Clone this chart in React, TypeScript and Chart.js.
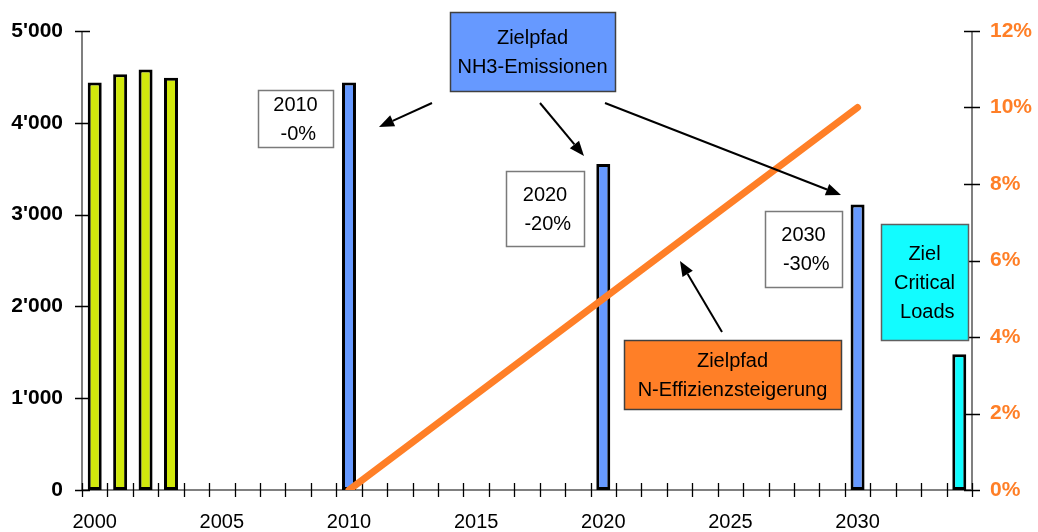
import React, { useEffect, useRef } from 'react';
import { Chart, registerables } from 'chart.js';

Chart.register(...registerables);

// ---- Data ----
const years: string[] = [
  '2000', '2001', '2002', '2003', '2004', '2005', '2006', '2007', '2008', '2009',
  '2010', '2011', '2012', '2013', '2014', '2015', '2016', '2017', '2018', '2019',
  '2020', '2021', '2022', '2023', '2024', '2025', '2026', '2027', '2028', '2029',
  '2030', '2031', '2032', '2033', '2034',
];
const historicYears = ['2000', '2001', '2002', '2003'];
const historicValues = [4440, 4530, 4580, 4490];
const targetYears = ['2010', '2020', '2030'];
const targetValues = [4440, 3550, 3110];
const criticalYears = ['2034'];
const criticalValues = [1480];
const efficiencyYears = ['2010', '2030'];
const efficiencyValues = [0, 10];
const leftTicks = [0, 1000, 2000, 3000, 4000, 5000];
const rightTicks = [0, 2, 4, 6, 8, 10, 12];

// ---- Styles ----
const FONT = "Arial, 'Liberation Sans', sans-serif";
const ORANGE = '#FF7F27';
const YELLOW = '#D1E80C';
const BLUE = '#6699FF';
const CYAN = '#12FCFF';

type Box = { x: number; y: number; w: number; h: number; fill: string; border: string; lines: string[] };
const boxes: Box[] = [
  { x: 258, y: 90, w: 75, h: 57, fill: '#FFFFFF', border: '#7a7a7a', lines: ['2010', ' -0%'] },
  { x: 450, y: 12, w: 165, h: 79, fill: BLUE, border: '#404040', lines: ['Zielpfad', 'NH3-Emissionen'] },
  { x: 506, y: 171, w: 78, h: 75, fill: '#FFFFFF', border: '#7a7a7a', lines: ['2020', ' -20%'] },
  { x: 765, y: 211, w: 77, h: 76, fill: '#FFFFFF', border: '#7a7a7a', lines: ['2030', ' -30%'] },
  { x: 881, y: 224, w: 87, h: 116, fill: CYAN, border: '#606060', lines: ['Ziel', 'Critical', ' Loads'] },
  { x: 624, y: 340, w: 217, h: 69, fill: ORANGE, border: '#404040', lines: ['Zielpfad', 'N-Effizienzsteigerung'] },
];
const arrows: number[][] = [
  [432, 103, 379, 127],
  [540, 103, 584, 156],
  [605, 103, 841, 195],
  [722, 332, 680, 261],
];

const fmtThousands = (v: number) =>
  v === 0 ? '0' : `${Math.floor(v / 1000)}'${String(v % 1000).padStart(3, '0')}`;

const axesPlugin = {
  id: 'customAxes',
  beforeDatasetsDraw(chart: any) {
    const { ctx, chartArea: a, scales } = chart;
    ctx.save();
    ctx.lineCap = 'butt';
    ctx.strokeStyle = '#555555';
    ctx.lineWidth = 1.5;
    ctx.beginPath();
    ctx.moveTo(a.left, a.top);
    ctx.lineTo(a.left, a.bottom);
    ctx.stroke();
    ctx.strokeStyle = '#808080';
    ctx.lineWidth = 2;
    ctx.beginPath();
    ctx.moveTo(a.right, a.top);
    ctx.lineTo(a.right, a.bottom);
    ctx.moveTo(a.left, a.bottom);
    ctx.lineTo(a.right, a.bottom);
    ctx.stroke();
    ctx.strokeStyle = '#000000';
    ctx.lineWidth = 1.3;
    ctx.beginPath();
    leftTicks.forEach((v) => {
      const y = Math.round(scales.y.getPixelForValue(v)) + 0.5;
      ctx.moveTo(a.left - 7, y);
      ctx.lineTo(a.left + 8, y);
    });
    rightTicks.forEach((v) => {
      const y = Math.round(scales.y1.getPixelForValue(v)) + 0.5;
      ctx.moveTo(a.right - 8, y);
      ctx.lineTo(a.right + 8, y);
    });
    const n = years.length;
    for (let i = 0; i <= n; i++) {
      const x = Math.round(a.left + (i * a.width) / n) + 0.5;
      ctx.moveTo(x, a.bottom - 7);
      ctx.lineTo(x, a.bottom + 7);
    }
    ctx.stroke();
    ctx.restore();
  },
};

const annotationPlugin = {
  id: 'annotations',
  afterDatasetsDraw(chart: any) {
    const { ctx } = chart;
    ctx.save();
    arrows.forEach(([x1, y1, x2, y2]) => {
      const ang = Math.atan2(y2 - y1, x2 - x1);
      const len = 15;
      const hw = 6;
      const bx = x2 - len * Math.cos(ang);
      const by = y2 - len * Math.sin(ang);
      ctx.strokeStyle = '#000';
      ctx.lineWidth = 2;
      ctx.beginPath();
      ctx.moveTo(x1, y1);
      ctx.lineTo(bx, by);
      ctx.stroke();
      ctx.fillStyle = '#000';
      ctx.beginPath();
      ctx.moveTo(x2, y2);
      ctx.lineTo(bx + hw * Math.sin(ang), by - hw * Math.cos(ang));
      ctx.lineTo(bx - hw * Math.sin(ang), by + hw * Math.cos(ang));
      ctx.closePath();
      ctx.fill();
    });
    boxes.forEach((b) => {
      ctx.fillStyle = b.fill;
      ctx.fillRect(b.x, b.y, b.w, b.h);
      ctx.strokeStyle = b.border;
      ctx.lineWidth = 1.5;
      ctx.strokeRect(b.x + 0.5, b.y + 0.5, b.w, b.h);
      ctx.fillStyle = '#000';
      ctx.font = `20px ${FONT}`;
      ctx.textAlign = 'center';
      ctx.textBaseline = 'middle';
      const spacing = 29;
      const cx = b.x + b.w / 2;
      const cy = b.y + b.h / 2;
      const start = cy - ((b.lines.length - 1) * spacing) / 2;
      b.lines.forEach((t, i) => ctx.fillText(t, cx, start + i * spacing + 1));
    });
    ctx.restore();
  },
};

export default function App() {
  const ref = useRef<HTMLCanvasElement>(null);

  useEffect(() => {
    if (!ref.current) return;
    const toPoints = (xs: string[], vs: number[]) => xs.map((x, i) => ({ x, y: vs[i] }));
    const barCommon = {
      type: 'bar' as const,
      yAxisID: 'y',
      borderColor: '#000000',
      borderWidth: 3,
      borderSkipped: false,
      barPercentage: 0.55,
      categoryPercentage: 1,
      grouped: false,
      order: 2,
    };
    const chart = new Chart(ref.current, {
      type: 'bar',
      data: {
        labels: years,
        datasets: [
          { ...barCommon, label: 'Emissionen', data: toPoints(historicYears, historicValues), backgroundColor: YELLOW },
          { ...barCommon, label: 'Zielpfad NH3-Emissionen', data: toPoints(targetYears, targetValues), backgroundColor: BLUE },
          { ...barCommon, label: 'Ziel Critical Loads', data: toPoints(criticalYears, criticalValues), backgroundColor: CYAN },
          {
            type: 'line',
            label: 'Zielpfad N-Effizienzsteigerung',
            yAxisID: 'y1',
            data: toPoints(efficiencyYears, efficiencyValues),
            borderColor: ORANGE,
            borderWidth: 7,
            borderCapStyle: 'round',
            pointRadius: 0,
            fill: false,
            order: 0,
          } as any,
        ],
      },
      options: {
        animation: false,
        responsive: false,
        layout: { padding: { top: 31, left: 0, right: 0, bottom: 0 } },
        plugins: { legend: { display: false }, tooltip: { enabled: false } },
        scales: {
          x: {
            type: 'category',
            offset: true,
            grid: { display: false },
            border: { display: false },
            ticks: {
              autoSkip: false,
              maxRotation: 0,
              padding: 12,
              color: '#000',
              font: { family: FONT, size: 20 },
              callback: function (this: any, v: any) {
                const lab = this.getLabelForValue(v);
                return Number(lab) % 5 === 0 ? lab : '';
              },
            },
            afterFit: (s: any) => {
              s.height = 42;
            },
          },
          y: {
            position: 'left',
            min: 0,
            max: 5000,
            grid: { display: false },
            border: { display: false },
            ticks: {
              stepSize: 1000,
              padding: 11,
              color: '#000',
              font: { family: FONT, size: 21, weight: 'bold' },
              callback: (v: any) => fmtThousands(Number(v)),
            },
            afterFit: (s: any) => {
              s.width = 82;
            },
          },
          y1: {
            position: 'right',
            min: 0,
            max: 12,
            grid: { display: false },
            border: { display: false },
            ticks: {
              stepSize: 2,
              padding: 10,
              color: ORANGE,
              font: { family: FONT, size: 21, weight: 'bold' },
              callback: (v: any) => `${v}%`,
            },
            afterFit: (s: any) => {
              s.width = 66;
            },
          },
        },
      } as any,
      plugins: [axesPlugin, annotationPlugin],
    });
    return () => chart.destroy();
  }, []);

  return (
    <div style={{ position: 'fixed', left: 0, top: 0, width: 1038, height: 532, background: '#fff' }}>
      <canvas ref={ref} width={1038} height={532} style={{ display: 'block' }} />
    </div>
  );
}
